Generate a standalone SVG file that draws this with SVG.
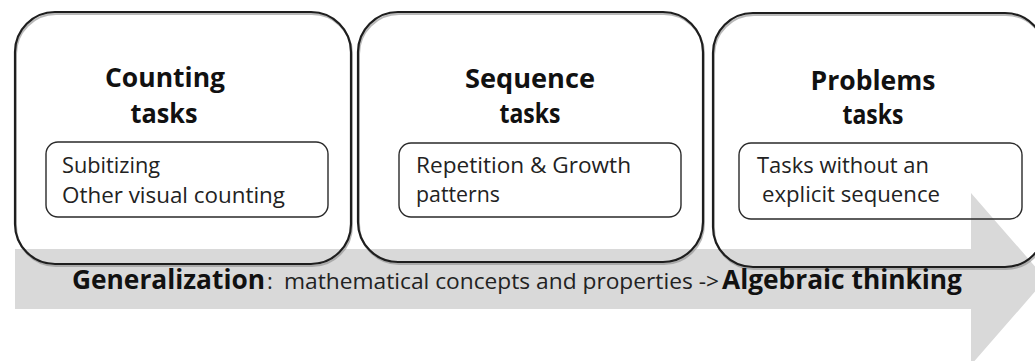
<svg xmlns="http://www.w3.org/2000/svg" width="1035" height="361" viewBox="0 0 1035 361">
  <style>
    .outer { fill: none; stroke: #1e1e1e; stroke-width: 2.2; }
    .shade { fill: none; stroke: #8a8a8a; stroke-width: 2; opacity: 0.6; }
    .inner { fill: none; stroke: #2a2a2a; stroke-width: 1.4; }
    .title { font-family: "Open Sans", "Liberation Sans", sans-serif; font-weight: bold; font-size: 26px; fill: #111; text-anchor: middle; }
    .item { font-family: "Open Sans", "Liberation Sans", sans-serif; font-size: 21px; fill: #222; }
    .band-b { font-family: "Open Sans", "Liberation Sans", sans-serif; font-weight: bold; font-size: 26px; fill: #111; }
    .band-r { font-family: "Open Sans", "Liberation Sans", sans-serif; font-size: 22px; fill: #222; }
  </style>

  <!-- broad progress arrow running beneath the three task groups -->
  <g id="connectors">
    <polygon id="progress-arrow" points="15,249 971,249 971,193 1046,279 971,365 971,309 15,309" fill="#d9d9d9"/>
  </g>

  <g id="counting">
    <rect class="shade" x="16" y="14" width="336" height="252" rx="40"/>
    <rect class="outer" x="15" y="12" width="336" height="252" rx="40"/>
    <text class="title" x="165" y="87" textLength="120" lengthAdjust="spacingAndGlyphs">Counting</text>
    <text class="title" x="164" y="123" textLength="67" lengthAdjust="spacingAndGlyphs">tasks</text>
    <rect class="inner" x="46" y="142" width="282" height="75" rx="12"/>
    <text class="item" x="62" y="173" textLength="98" lengthAdjust="spacingAndGlyphs">Subitizing</text>
    <text class="item" x="62" y="203" textLength="223" lengthAdjust="spacingAndGlyphs">Other visual counting</text>
  </g>

  <g id="sequence">
    <rect class="shade" x="359" y="14" width="345" height="250" rx="40"/>
    <rect class="outer" x="358" y="12" width="345" height="250" rx="40"/>
    <text class="title" x="530" y="88" textLength="130" lengthAdjust="spacingAndGlyphs">Sequence</text>
    <text class="title" x="530" y="123" textLength="61" lengthAdjust="spacingAndGlyphs">tasks</text>
    <rect class="inner" x="399" y="143" width="282" height="74" rx="12"/>
    <text class="item" x="416" y="173" textLength="215" lengthAdjust="spacingAndGlyphs">Repetition &amp; Growth</text>
    <text class="item" x="416" y="202" textLength="84" lengthAdjust="spacingAndGlyphs">patterns</text>
  </g>

  <g id="problems">
    <rect class="shade" x="714" y="15" width="332" height="254" rx="40"/>
    <rect class="outer" x="713" y="13" width="332" height="254" rx="40"/>
    <text class="title" x="873" y="90" textLength="125" lengthAdjust="spacingAndGlyphs">Problems</text>
    <text class="title" x="873" y="124" textLength="61" lengthAdjust="spacingAndGlyphs">tasks</text>
    <rect class="inner" x="739" y="143" width="283" height="76" rx="12"/>
    <text class="item" x="757" y="173" textLength="172" lengthAdjust="spacingAndGlyphs">Tasks without an</text>
    <text class="item" x="762" y="202" textLength="178" lengthAdjust="spacingAndGlyphs">explicit sequence</text>
  </g>

  <g id="generalization-label">
    <text y="289">
      <tspan class="band-b" x="72" textLength="193" lengthAdjust="spacingAndGlyphs">Generalization</tspan>
      <tspan class="band-r" x="267">:</tspan>
      <tspan class="band-r" x="284" textLength="435" lengthAdjust="spacingAndGlyphs">mathematical concepts and properties -&gt;</tspan>
      <tspan class="band-b" x="722" textLength="240" lengthAdjust="spacingAndGlyphs">Algebraic thinking</tspan>
    </text>
  </g>
</svg>
